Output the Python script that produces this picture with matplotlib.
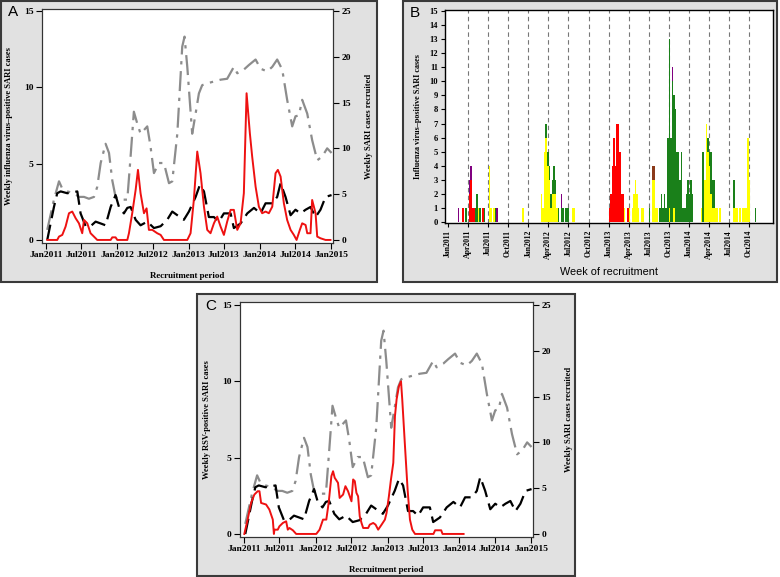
import numpy as np
import pandas as pd
import matplotlib
matplotlib.use('Agg')
import matplotlib.pyplot as plt
from matplotlib.patches import Rectangle

# -----------------------------------------------------------------------------
# Data (x in weeks since 2011-01-03)
# recruitment lines, right axis units (weekly SARI cases recruited)
gray_wk  = [0.7, 5.6, 9.3, 11.7, 15.4, 20.2, 23.9, 27.6, 31.2, 34.9, 37.3, 39.8, 43.4, 45.9, 48.3,
            50.7, 54.4, 59.3, 61.7, 64.1, 66.6, 69.0, 71.5, 73.9, 76.3, 78.8, 82.4, 86.1, 89.8,
            92.2, 95.9, 99.5, 101.2, 103.2, 106.8, 109.3, 111.7, 114.1, 117.8, 122.7, 127.6,
            132.4, 137.3, 139.8, 144.6, 148.3, 153.2, 156.8, 161.7, 165.4, 169.0, 172.7, 176.3,
            180.0, 182.4, 184.9, 187.3, 191.0, 194.6, 198.3, 201.9, 205.6, 208.8]
gray_val = [1.1, 4.4, 6.4, 5.6, 5.3, 5.1, 4.7, 4.7, 4.5, 4.7, 5.8, 8.4, 10.5, 9.5, 6.5,
            4.7, 4.4, 4.4, 9.1, 14.0, 12.7, 11.6, 12.0, 12.4, 10.2, 7.3, 8.4, 8.4, 6.2,
            6.4, 11.6, 21.1, 22.2, 18.9, 11.6, 13.8, 16.0, 16.9, 17.1, 17.3, 17.5,
            17.6, 18.9, 18.2, 18.6, 19.1, 19.7, 18.7, 18.4, 18.9, 19.7, 18.6, 15.3,
            12.4, 13.5, 13.6, 15.3, 13.8, 10.9, 8.7, 9.1, 10.0, 9.5]

black_wk  = [0.7, 5.6, 8.0, 10.5, 15.4, 22.7, 25.1, 28.8, 32.4, 36.1, 39.8, 43.4, 47.1, 50.7, 53.2,
             56.8, 59.3, 61.7, 65.4, 69.0, 73.9, 78.8, 83.7, 88.5, 92.2, 95.9, 100.7, 104.4,
             109.3, 112.4, 115.4, 119.0, 122.7, 126.3, 130.0, 134.9, 137.3, 142.2, 147.1,
             152.0, 156.8, 160.5, 165.4, 169.0, 171.5, 175.1, 178.8, 182.4, 186.1, 189.8,
             193.4, 197.1, 200.7, 204.4, 208.8]
black_val = [0.0, 3.6, 5.1, 5.3, 5.1, 5.3, 2.9, 1.5, 1.5, 2.0, 1.8, 1.6, 3.6, 4.9, 3.6,
             2.9, 3.5, 3.6, 2.2, 1.6, 2.0, 1.3, 1.5, 2.2, 3.1, 2.7, 2.2, 3.1,
             4.7, 6.0, 5.3, 2.5, 2.5, 2.0, 2.9, 2.9, 1.3, 1.8, 2.9,
             3.5, 2.9, 4.0, 4.0, 4.7, 6.2, 4.7, 2.7, 3.3, 2.9, 3.3,
             3.6, 2.5, 3.3, 4.7, 4.9]

# Panel A: influenza positive (left axis)
flu_wk  = [0.7, 8.0, 9.3, 11.7, 14.1, 16.6, 19.0, 21.5, 23.9, 26.3, 27.6, 30.0, 32.4, 36.1, 37.3,
           47.1, 48.3, 50.7, 52.0, 59.3, 60.5, 62.9, 65.4, 67.1, 69.0, 71.5, 73.4, 75.1, 77.6,
           81.2, 83.7, 86.1, 103.2, 105.6, 108.0, 110.5, 112.9, 115.4, 117.8, 120.2, 122.7,
           125.1, 127.6, 130.0, 132.4, 134.9, 137.3, 139.8, 142.2, 144.6, 146.6, 149.0, 150.7,
           153.2, 155.6, 158.0, 160.5, 162.9, 165.4, 167.8, 169.5, 171.5, 173.9, 176.3, 178.8,
           181.2, 183.2, 185.6, 187.3, 189.8, 191.0, 193.4, 194.6, 197.1, 198.3, 200.7, 204.4, 208.0]
flu_val = [0.0, 0.0, 0.22, 0.33, 0.87, 1.75, 1.86, 1.42, 1.09, 0.44, 1.31, 1.09, 0.44, 0.11, 0.0,
           0.0, 0.17, 0.17, 0.0, 0.0, 0.44, 1.75, 3.28, 4.59, 3.06, 1.75, 2.07, 0.66, 0.66,
           0.44, 0.33, 0.0, 0.0, 0.44, 2.62, 5.79, 4.37, 2.18, 0.66, 0.44, 1.09,
           1.53, 0.87, 0.33, 1.2, 1.97, 1.97, 0.66, 1.09, 3.06, 9.61, 6.99, 5.46,
           3.49, 2.18, 1.75, 1.86, 1.75, 2.18, 4.37, 4.59, 4.15, 2.4, 1.31, 0.66,
           0.33, 0.0, 0.66, 1.09, 0.98, 0.44, 0.44, 2.62, 1.75, 0.22, 0.11, 0.0, 0.0]

# Panel C: RSV positive (left axis)
rsv_wk  = [0.0, 2.4, 4.9, 7.3, 9.7, 11.0, 12.2, 15.8, 18.2, 20.7, 21.5, 21.9, 24.3, 25.5, 28.0,
           30.4, 31.6, 32.8, 35.3, 37.7, 52.3, 54.7, 57.2, 59.6, 61.3, 63.3, 64.5, 65.7, 68.1,
           69.3, 71.8, 73.5, 75.4, 77.9, 79.1, 80.3, 81.5, 82.7, 83.9, 85.2, 86.4, 90.0, 91.2,
           93.7, 95.4, 97.3, 99.8, 102.2, 103.4, 105.1, 106.6, 108.3, 109.5, 110.7, 112.4,
           113.9, 114.8, 116.8, 118.7, 120.4, 122.1, 124.1, 137.5, 138.7, 143.1, 144.1, 159.4]
rsv_val = [0.0, 0.94, 2.03, 2.58, 2.8, 2.8, 2.03, 1.93, 1.6, 0.94, 0.0, 0.28, 0.28, 0.5, 0.72,
           0.83, 0.28, 0.39, 0.24, 0.0, 0.0, 0.28, 0.94, 0.94, 2.03, 3.79, 4.11, 3.68, 3.35,
           2.36, 2.58, 3.13, 2.8, 2.14, 3.57, 3.46, 2.69, 2.47, 1.16, 0.72, 0.39, 0.39, 0.61,
           0.72, 0.61, 0.28, 0.61, 0.94, 1.38, 2.47, 3.57, 4.66, 7.72, 8.82, 9.69,
           10.0, 8.82, 5.75, 2.91, 0.94, 0.28, 0.0, 0.0, 0.24, 0.24, 0.0, 0.0]

# Panel B: weekly influenza positive cases by type (stacked)
red_wk    = [9, 13, 14, 15, 16, 22, 104, 105, 106, 107, 108, 109, 110, 111, 112, 113, 116]
red_n     = [1, 2, 3, 1, 1, 1, 1, 2, 4, 6, 4, 7, 7, 5, 2, 2, 1]
yellow_wk = [19, 26, 27, 29, 48, 60, 61, 62, 63, 64, 65, 66, 67, 68, 69, 70, 80, 81,
             114, 117, 119, 120, 121, 122, 123, 125, 126, 132, 133, 134, 135, 143, 146,
             164, 166, 167, 168, 169, 170, 171, 172, 173, 174, 176, 185, 186, 187, 189,
             191, 192, 193, 194, 195]
yellow_n  = [1, 4, 1, 1, 1, 2, 1, 5, 6, 4, 3, 1, 2, 2, 2, 1, 1, 1,
             1, 1, 1, 2, 3, 2, 1, 1, 1, 3, 3, 1, 1, 1, 1,
             1, 3, 7, 5, 4, 2, 1, 1, 1, 1, 1, 1, 1, 1, 1,
             1, 1, 1, 6, 3]
green_wk  = [11, 17, 18, 20, 23, 30, 63, 64, 65, 66, 67, 68, 69, 71, 73, 74, 76, 77,
             130, 137, 138, 139, 140, 141, 142, 143, 144, 145, 146, 147, 148, 149, 150, 151,
             152, 153, 154, 155, 156, 157, 158, 165, 168, 169, 170, 171, 172, 185, 199]
green_n   = [1, 1, 2, 1, 1, 1, 1, 1, 1, 1, 1, 2, 1, 1, 1, 1, 1, 1,
             1, 1, 2, 1, 2, 1, 6, 12, 6, 10, 8, 8, 5, 5, 3, 5,
             1, 1, 2, 3, 2, 3, 2, 5, 1, 1, 3, 2, 2, 2, 1]
purple_wk = [6, 13, 14, 31, 73, 145]
purple_n  = [1, 1, 1, 1, 1, 1]
brown_wk  = [132, 133]
brown_n   = [1, 1]

t0 = pd.Timestamp('2011-01-03')
def wk2date(w):
    return t0 + pd.to_timedelta(np.asarray(w, dtype=float) * 7, unit='D')

# -----------------------------------------------------------------------------
W, H = 780, 577
fig = plt.figure(figsize=(W / 100, H / 100), dpi=100)
serif = ['Liberation Serif', 'DejaVu Serif']
sans = ['Liberation Sans', 'DejaVu Sans']

def box(l, t, r, b):
    fig.patches.append(Rectangle((l / W, 1 - b / H), (r - l) / W, (b - t) / H,
                                 transform=fig.transFigure, facecolor='#e1e1e1',
                                 edgecolor='#3a3a3a', linewidth=1.5, zorder=-10))

def px_axes(l, t, r, b):
    return fig.add_axes([l / W, 1 - b / H, (r - l) / W, (b - t) / H])

box(1, 1, 377, 282)
box(403, 1, 777, 282)
box(197, 294, 575, 576)

month_ticks = pd.date_range('2011-01-01', '2015-01-01', freq='6MS')
month_labels = [d.strftime('%b%Y') for d in month_ticks]

def line_panel(ax, red_x, red_y, ylab, ytop):
    ax2 = ax.twinx()
    ax2.plot(wk2date(gray_wk), gray_val, color='#8c8c8c', lw=1.6, dashes=(9, 3, 1.5, 3))
    ax2.plot(wk2date(black_wk), black_val, color='black', lw=1.6, dashes=(7, 3))
    ax.plot(wk2date(red_x), red_y, color='#ee1111', lw=1.4, zorder=5)
    ax.set_zorder(ax2.get_zorder() + 1)
    ax.patch.set_visible(False)
    ax2.patch.set_facecolor('white')
    ax2.patch.set_visible(True)
    ax.set_xlim(pd.Timestamp('2011-01-01') - pd.Timedelta(days=20),
                pd.Timestamp('2015-01-01') + pd.Timedelta(days=10))
    ax.set_ylim(-0.2, ytop)
    ax2.set_ylim(-0.2 * 25 / 15, ytop * 25 / 15)
    ax.set_yticks([0, 5, 10, 15])
    ax2.set_yticks([0, 5, 10, 15, 20, 25])
    ax.set_xticks(month_ticks)
    ax.set_xticklabels(month_labels)
    for a in (ax, ax2):
        a.tick_params(direction='out', length=4, width=0.8, labelsize=6.8, pad=2)
        for lab in a.get_xticklabels() + a.get_yticklabels():
            lab.set_fontfamily(serif)
            lab.set_fontweight('bold')
        for s in a.spines.values():
            s.set_linewidth(0.8)
            s.set_color('#333333')
    ax.set_ylabel(ylab, fontsize=6.1, fontweight='bold', family=serif, labelpad=8)
    ax2.set_ylabel('Weekly SARI cases recruited', fontsize=6.1, fontweight='bold',
                   family=serif, labelpad=10)
    ax.set_xlabel('Recruitment period', fontsize=6.4, fontweight='bold', family=serif,
                  labelpad=9)

# -----------------------------------------------------------------------------
# Panel A
axA = px_axes(42, 9, 333, 243)
line_panel(axA, flu_wk, flu_val, 'Weekly influenza virus\u2013positive SARI cases', 15.13)
fig.text(8 / W, 1 - 12 / H, 'A', fontsize=11, family=sans, va='center', ha='left')

# Panel C
axC = px_axes(240, 302, 533, 537)
line_panel(axC, rsv_wk, rsv_val, 'Weekly RSV-positive SARI cases', 15.2)
fig.text(205 / W, 1 - 306 / H, 'C', fontsize=11, family=sans, va='center', ha='left')

# -----------------------------------------------------------------------------
# Panel B
axB = px_axes(445, 10, 773, 223)
axB.set_facecolor('white')
weeks = np.arange(0, 210)
stack = np.zeros(len(weeks))
for wk, n, col in [(red_wk, red_n, '#ff0000'), (yellow_wk, yellow_n, '#ffff00'),
                   (green_wk, green_n, '#1a801a'), (purple_wk, purple_n, '#800080'),
                   (brown_wk, brown_n, '#8b3a1a')]:
    h = np.zeros(len(weeks))
    h[np.asarray(wk)] = n
    axB.bar(wk2date(weeks) + pd.Timedelta(days=3.5), h, width=7, bottom=stack,
            color=col, linewidth=0, zorder=2)
    stack = stack + h

q_ticks = pd.date_range('2011-01-01', '2014-10-01', freq='3MS')
for d in q_ticks[1:]:
    axB.axvline(d, color='#777777', lw=0.8, dashes=(4, 3), zorder=1)
axB.set_xlim(pd.Timestamp('2011-01-01') - pd.Timedelta(days=14),
             pd.Timestamp('2015-01-18'))
axB.set_ylim(-0.07, 15.07)
axB.set_yticks(range(0, 16))
axB.set_xticks(q_ticks)
axB.set_xticklabels([d.strftime('%b%Y') for d in q_ticks], rotation=90)
axB.tick_params(axis='x', direction='out', length=3, width=0.8, labelsize=5.6, pad=2)
axB.tick_params(axis='y', direction='out', length=3, width=0.8, labelsize=6.2, pad=2)
for lab in axB.get_xticklabels() + axB.get_yticklabels():
    lab.set_fontfamily(serif)
    lab.set_fontweight('bold')
for s in axB.spines.values():
    s.set_linewidth(1.0)
axB.set_ylabel('Influenza virus\u2013positive SARI cases', fontsize=5.9, fontweight='bold',
               family=serif, labelpad=5)
axB.set_xlabel('Week of recruitment', fontsize=7.8, family=sans, labelpad=6)
fig.text(410 / W, 1 - 13 / H, 'B', fontsize=11, family=sans, va='center', ha='left')

fig.savefig('out.png', dpi=100)
